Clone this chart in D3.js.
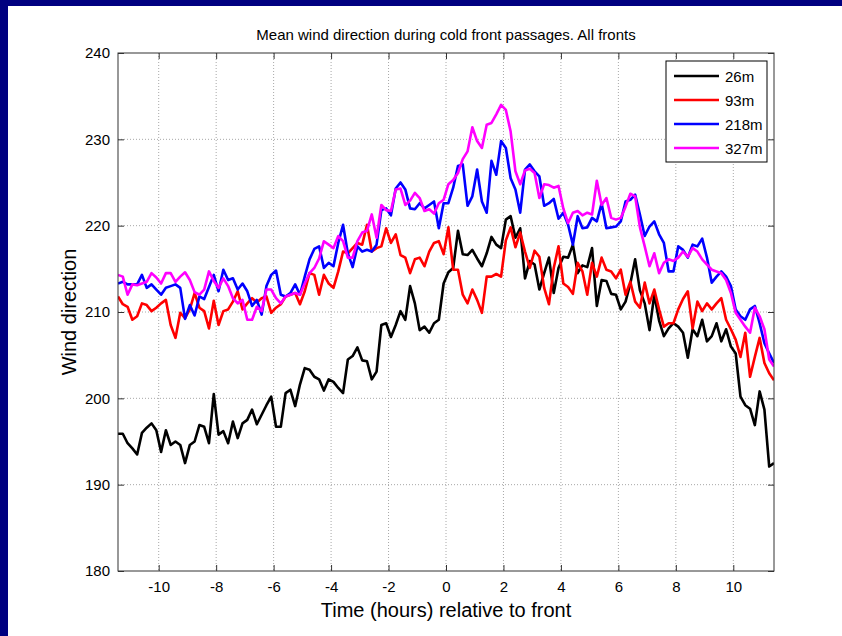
<!DOCTYPE html>
<html>
<head>
<meta charset="utf-8">
<script src="https://cdn.jsdelivr.net/npm/d3@7"></script>
<style>
body { margin: 0; background: #000080; }
text { font-family: "Liberation Sans", Arial, Helvetica, sans-serif; }
</style>
</head>
<body>
<script>
// sampling grid: 10 minute steps, hours relative to front
var t0 = -11.4167;
var dt = 1 / 6;

// mean wind direction (deg)
var dir26 = [195.9, 195.9, 194.8, 194.2, 193.5, 196.0, 196.6, 197.1, 196.3, 193.8,
    196.3, 194.6, 195.0, 194.6, 192.5, 194.6, 195.0, 196.9, 196.7, 194.8,
    200.5, 195.8, 196.2, 194.8, 197.3, 195.4, 197.1, 197.5, 198.7, 197.0,
    198.1, 199.2, 200.2, 196.7, 196.7, 200.6, 201.0, 199.1, 201.6, 203.5,
    203.3, 202.5, 202.2, 200.9, 202.2, 201.9, 201.2, 200.6, 204.5, 204.9,
    205.9, 204.4, 204.3, 202.2, 203.1, 208.5, 208.7, 207.1, 208.5, 210.1,
    209.1, 213.0, 211.0, 207.9, 208.3, 207.6, 208.7, 209.1, 213.3, 214.6,
    215.1, 219.4, 216.7, 216.6, 217.2, 216.2, 215.3, 216.8, 218.7, 217.8,
    217.4, 220.7, 221.1, 218.6, 219.7, 213.9, 215.9, 215.5, 212.6, 214.5,
    216.3, 212.2, 215.1, 216.4, 216.3, 217.8, 214.5, 215.4, 215.2, 217.4,
    210.7, 213.7, 213.6, 212.1, 212.0, 210.3, 211.2, 213.3, 216.1, 212.5,
    211.0, 207.9, 212.0, 209.0, 207.2, 208.1, 208.7, 208.3, 207.6, 204.7,
    208.0, 207.2, 209.1, 206.6, 207.2, 208.7, 206.6, 208.0, 206.0, 205.2,
    200.2, 199.2, 198.8, 196.9, 200.8, 198.7, 192.1, 192.5];

var dir93 = [211.8, 210.9, 210.6, 209.1, 209.5, 211.0, 210.8, 210.1, 210.5, 211.0,
    211.4, 208.5, 207.0, 209.9, 209.3, 210.3, 212.2, 210.5, 210.1, 208.1,
    211.3, 208.5, 210.1, 210.3, 211.2, 212.4, 210.3, 211.0, 211.6, 211.1,
    211.6, 211.8, 209.9, 210.5, 210.9, 211.8, 212.0, 212.2, 210.9, 212.4,
    214.5, 214.3, 212.0, 214.3, 213.3, 212.8, 214.7, 217.0, 216.8, 217.4,
    218.0, 217.8, 220.1, 217.0, 217.4, 217.6, 219.7, 218.0, 219.0, 216.6,
    216.3, 214.5, 216.1, 216.3, 215.3, 217.0, 218.0, 218.2, 216.7, 219.8,
    214.9, 214.9, 212.0, 211.0, 212.6, 211.4, 209.9, 214.1, 214.1, 214.4,
    214.1, 218.3, 219.8, 217.5, 219.2, 217.0, 215.1, 217.1, 216.4, 212.8,
    210.9, 215.1, 217.6, 213.3, 212.9, 212.1, 215.7, 214.7, 212.0, 215.7,
    214.1, 216.3, 214.9, 214.7, 213.9, 214.9, 212.0, 213.5, 211.2, 210.5,
    213.4, 211.0, 212.6, 210.3, 208.3, 208.7, 208.7, 210.3, 211.5, 212.4,
    208.1, 211.2, 210.1, 211.0, 210.3, 211.0, 211.6, 209.1, 208.0, 206.8,
    204.8, 207.6, 202.5, 204.8, 207.0, 204.1, 202.9, 202.1];

var dir218 = [213.3, 213.5, 213.2, 213.2, 213.2, 214.3, 212.8, 213.2, 212.6, 212.0,
    212.8, 213.0, 213.2, 212.8, 209.2, 210.8, 209.6, 211.8, 211.5, 212.9,
    214.3, 212.4, 214.9, 213.7, 213.9, 212.6, 213.3, 212.4, 210.7, 211.4,
    209.7, 213.0, 214.3, 214.8, 212.0, 211.8, 212.2, 213.2, 212.0, 214.1,
    216.1, 217.3, 217.6, 215.1, 215.7, 215.3, 218.0, 220.1, 216.8, 215.2,
    217.6, 217.0, 217.2, 217.0, 217.8, 221.8, 222.0, 221.2, 224.3, 225.0,
    224.2, 222.0, 221.9, 222.6, 222.0, 222.4, 222.8, 219.7, 222.6, 222.6,
    224.4, 226.9, 227.1, 222.3, 223.4, 226.5, 222.8, 221.5, 227.5, 225.9,
    229.8, 229.0, 225.5, 224.2, 221.5, 226.5, 227.1, 226.3, 225.7, 222.3,
    222.6, 223.1, 220.8, 221.5, 220.1, 217.8, 221.1, 219.7, 219.8, 220.9,
    220.5, 222.6, 219.7, 219.8, 219.9, 220.5, 222.8, 223.0, 223.6, 221.3,
    218.8, 219.9, 220.5, 219.0, 218.0, 214.7, 214.7, 217.6, 217.2, 216.3,
    217.8, 217.6, 218.5, 216.3, 213.4, 214.1, 214.7, 214.1, 213.0, 210.3,
    209.5, 209.1, 210.3, 210.7, 208.7, 206.4, 205.2, 204.1];

var dir327 = [214.3, 214.1, 212.0, 213.2, 213.1, 213.3, 213.5, 214.5, 214.0, 213.3,
    214.5, 214.5, 213.5, 214.1, 214.6, 213.7, 212.3, 212.0, 212.6, 214.7,
    213.6, 212.8, 213.9, 213.0, 211.6, 211.0, 211.4, 209.1, 209.1, 210.6,
    210.1, 212.6, 212.6, 211.6, 211.0, 211.8, 212.0, 212.2, 212.0, 213.3,
    214.5, 215.1, 216.2, 218.2, 217.8, 217.4, 218.8, 218.2, 216.3, 216.3,
    218.2, 219.2, 219.4, 221.3, 218.6, 222.4, 221.8, 221.7, 224.2, 224.3,
    222.4, 222.9, 223.8, 223.2, 221.7, 221.9, 221.4, 222.6, 223.0, 224.8,
    225.3, 226.1, 227.7, 228.6, 231.4, 229.8, 229.0, 231.7, 231.9, 232.9,
    234.0, 233.4, 230.9, 226.3, 224.8, 226.4, 226.6, 226.1, 223.2, 224.8,
    224.7, 224.4, 224.6, 222.0, 220.3, 221.5, 221.7, 221.2, 221.5, 221.3,
    225.2, 222.4, 223.2, 220.9, 220.7, 220.9, 222.2, 223.7, 223.4, 219.8,
    217.6, 215.3, 216.8, 214.5, 215.7, 216.1, 215.9, 216.3, 217.0, 216.4,
    217.4, 217.0, 216.1, 215.5, 214.9, 214.7, 214.5, 213.7, 212.2, 209.9,
    209.1, 208.3, 207.6, 210.5, 209.5, 208.0, 204.5, 203.7];

var heights = ["26m", "93m", "218m", "327m"];
var colours = ["#000000", "#ff0000", "#0000ff", "#ff00ff"];
var xTicks = [-10, -8, -6, -4, -2, 0, 2, 4, 6, 8, 10];
var yTicks = [180, 190, 200, 210, 220, 230, 240];

var series = [dir26, dir93, dir218, dir327];

// figure size and axes box
var width = 842;
var height = 636;
var margin = { top: 53, bottom: 65, left: 118, right: 68 };

var svg = d3.select("body")
    .append("svg")
    .attr("width", width)
    .attr("height", height);

// navy frame, white figure
svg.append("rect")
    .attr("width", width)
    .attr("height", height)
    .attr("fill", "#000080");
svg.append("rect")
    .attr("x", 8)
    .attr("y", 6)
    .attr("width", width - 8)
    .attr("height", height - 6)
    .attr("fill", "#ffffff");

var x = d3.scaleLinear()
    .domain([t0, t0 + dt * (dir26.length - 1)])
    .range([margin.left, width - margin.right]);

var y = d3.scaleLinear()
    .domain([180, 240])
    .range([height - margin.bottom, margin.top]);

var plotW = width - margin.left - margin.right;
var plotH = height - margin.top - margin.bottom;

// dotted grid
var grid = svg.append("g").attr("class", "grid");
grid.selectAll(".gx")
    .data(xTicks)
    .enter().append("line")
    .attr("x1", function(d) { return x(d); })
    .attr("x2", function(d) { return x(d); })
    .attr("y1", margin.top)
    .attr("y2", height - margin.bottom)
    .attr("stroke", "#a8a8a8")
    .attr("stroke-dasharray", "1,2");
grid.selectAll(".gy")
    .data(yTicks.slice(1, -1))
    .enter().append("line")
    .attr("x1", margin.left)
    .attr("x2", width - margin.right)
    .attr("y1", function(d) { return y(d); })
    .attr("y2", function(d) { return y(d); })
    .attr("stroke", "#a8a8a8")
    .attr("stroke-dasharray", "1,2");

// lines
svg.append("clipPath")
    .attr("id", "clip")
    .append("rect")
    .attr("x", margin.left)
    .attr("y", margin.top)
    .attr("width", plotW)
    .attr("height", plotH);

var line = d3.line()
    .x(function(d, i) { return x(t0 + dt * i); })
    .y(function(d) { return y(d); });

svg.append("g")
    .attr("clip-path", "url(#clip)")
    .selectAll("path")
    .data(series)
    .enter().append("path")
    .attr("d", line)
    .attr("fill", "none")
    .attr("stroke", function(d, i) { return colours[i]; })
    .attr("stroke-width", 2.6)
    .attr("stroke-linejoin", "round");

// axes with inward ticks on all four sides
var axisCol = "#333";
var plain = function(d) { return String(d); };  // hyphen minus like the original
function styleAxis(g) {
    g.select(".domain").remove();
    g.selectAll(".tick line").attr("stroke", axisCol);
    g.selectAll(".tick text")
        .attr("fill", "#000")
        .style("font-size", "15px");
}

svg.append("g")
    .attr("transform", "translate(0," + (height - margin.bottom) + ")")
    .call(d3.axisBottom(x).tickValues(xTicks).tickFormat(plain).tickSizeInner(-6).tickPadding(10))
    .call(styleAxis);
svg.append("g")
    .attr("transform", "translate(0," + margin.top + ")")
    .call(d3.axisTop(x).tickValues(xTicks).tickSizeInner(-6).tickFormat(""))
    .call(styleAxis);
svg.append("g")
    .attr("transform", "translate(" + margin.left + ",0)")
    .call(d3.axisLeft(y).tickValues(yTicks).tickFormat(plain).tickSizeInner(-6).tickPadding(8))
    .call(styleAxis);
svg.append("g")
    .attr("transform", "translate(" + (width - margin.right) + ",0)")
    .call(d3.axisRight(y).tickValues(yTicks).tickSizeInner(-6).tickFormat(""))
    .call(styleAxis);

svg.append("rect")
    .attr("x", margin.left)
    .attr("y", margin.top)
    .attr("width", plotW)
    .attr("height", plotH)
    .attr("fill", "none")
    .attr("stroke", axisCol)
    .attr("stroke-width", 1);

// title and axis labels
svg.append("text")
    .attr("x", margin.left + plotW / 2)
    .attr("y", 40)
    .attr("text-anchor", "middle")
    .style("font-size", "15px")
    .text("Mean wind direction during cold front passages. All fronts");

svg.append("text")
    .attr("x", margin.left + plotW / 2)
    .attr("y", 617)
    .attr("text-anchor", "middle")
    .style("font-size", "20px")
    .text("Time (hours) relative to front");

svg.append("text")
    .attr("transform", "translate(76," + (margin.top + plotH / 2) + ") rotate(-90)")
    .attr("text-anchor", "middle")
    .style("font-size", "20px")
    .text("Wind direction");

// legend
var legend = svg.append("g")
    .attr("transform", "translate(" + (width - margin.right - 108) + "," + (margin.top + 8) + ")");
legend.append("rect")
    .attr("width", 101)
    .attr("height", 101)
    .attr("fill", "#fff")
    .attr("stroke", "#000")
    .attr("stroke-width", 1);
var item = legend.selectAll(".item")
    .data(heights)
    .enter().append("g")
    .attr("transform", function(d, i) { return "translate(0," + (15 + i * 24) + ")"; });
item.append("line")
    .attr("x1", 8)
    .attr("x2", 53)
    .attr("stroke", function(d, i) { return colours[i]; })
    .attr("stroke-width", 2.6);
item.append("text")
    .attr("x", 59)
    .attr("y", 5.5)
    .style("font-size", "15px")
    .text(function(d) { return d; });
</script>
</body>
</html>
